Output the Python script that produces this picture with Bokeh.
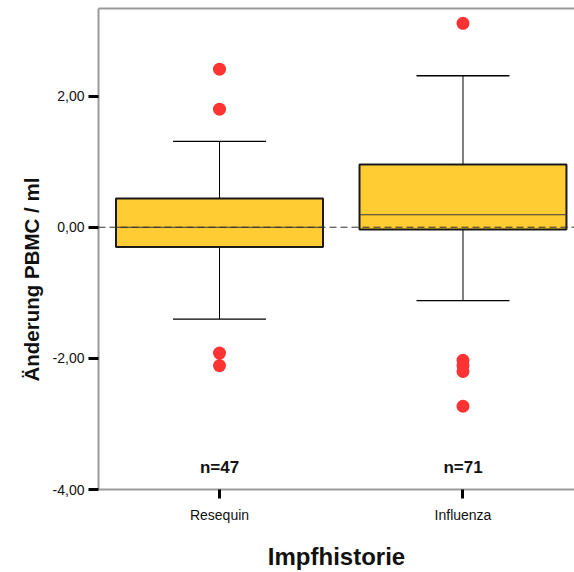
from bokeh.plotting import figure
from bokeh.models import Range1d, FixedTicker, LinearAxis, ColumnDataSource, Span, Title
from bokeh.core.properties import value
from bokeh.embed import file_html
from bokeh.resources import INLINE

# ---- data ----
categories = ["Resequin", "Influenza"]
q1 = [-0.30, -0.035]
medians = [0.00, 0.19]
q3 = [0.44, 0.955]
lower_whisker = [-1.40, -1.12]
upper_whisker = [1.31, 2.31]
outliers_resequin = [2.41, 1.80, -1.92, -2.11]
outliers_influenza = [3.11, -2.03, -2.11, -2.20, -2.73]
n_counts = [47, 71]
y_ticks = [-4, -2, 0, 2]

FONT = "Liberation Sans"
xs = list(range(len(categories)))
BOX_W = 0.85
CAP_W = 0.382

p = figure(width=574, height=572, output_backend="svg", toolbar_location=None,
           x_range=Range1d(-0.497, 1.458), y_range=Range1d(-4.0, 3.336),
           min_border_left=98, min_border_right=0, min_border_top=8,
           min_border_bottom=78)
p.background_fill_color = "white"
p.border_fill_color = "white"
p.outline_line_color = None
p.xgrid.visible = False
p.ygrid.visible = False

src = ColumnDataSource(dict(
    x=xs, q1=q1, med=medians, q3=q3, lo=lower_whisker, hi=upper_whisker,
    bl=[x - BOX_W / 2 for x in xs], br=[x + BOX_W / 2 for x in xs],
    cl=[x - CAP_W / 2 for x in xs], cr=[x + CAP_W / 2 for x in xs]))

# whiskers
p.segment(x0="x", y0="q3", x1="x", y1="hi", source=src, line_color="black", line_width=1)
p.segment(x0="x", y0="q1", x1="x", y1="lo", source=src, line_color="black", line_width=1)
# caps
p.segment(x0="cl", y0="hi", x1="cr", y1="hi", source=src, line_color="black", line_width=1.3)
p.segment(x0="cl", y0="lo", x1="cr", y1="lo", source=src, line_color="black", line_width=1.3)
# boxes
p.vbar(x="x", bottom="q1", top="q3", width=BOX_W, source=src,
       fill_color="#FFCC33", line_color="#1a1a1a", line_width=2)
# medians
p.segment(x0="bl", y0="med", x1="br", y1="med", source=src, line_color="#3a3a3a", line_width=1.2)

# zero reference line on top
p.add_layout(Span(location=0, dimension="width", line_color="#333333",
                  line_width=1, line_dash="7 4", level="overlay"))

# outliers
ox = [0] * len(outliers_resequin) + [1] * len(outliers_influenza)
oy = outliers_resequin + outliers_influenza
p.scatter(x=ox, y=oy, size=13, fill_color="#FF3333", line_color=None)

# n labels
p.text(x=xs, y=[-3.66] * len(xs), text=[f"n={n}" for n in n_counts],
       text_align="center", text_baseline="middle",
       text_font=value(FONT), text_font_style="bold", text_font_size="17px",
       text_color="#111111")

# axes
ya = p.yaxis[0]
ya.ticker = FixedTicker(ticks=y_ticks)
ya.major_label_overrides = {t: f"{t:.2f}".replace(".", ",") for t in y_ticks}
ya.major_label_text_font = FONT
ya.major_label_text_font_size = "14px"
ya.major_label_text_color = "#111111"
ya.major_label_standoff = 4
ya.axis_line_color = "#999999"
ya.axis_line_width = 2
ya.major_tick_line_color = "black"
ya.major_tick_line_width = 3
ya.major_tick_out = 10
ya.major_tick_in = 0
ya.minor_tick_line_color = None

# y-axis title, positioned like the reference (below the frame centre)
p.add_layout(Title(text="Änderung PBMC / ml", align="left", offset=108,
                   standoff=13, text_font=FONT, text_font_style="bold",
                   text_font_size="20.5px", text_color="#111111"), "left")

xa = p.xaxis[0]
xa.ticker = FixedTicker(ticks=xs)
xa.major_label_overrides = {i: c for i, c in enumerate(categories)}
xa.axis_label = "Impfhistorie"
xa.axis_label_text_font = FONT
xa.axis_label_text_font_style = "bold"
xa.axis_label_text_font_size = "24px"
xa.axis_label_text_color = "#111111"
xa.axis_label_standoff = 17
xa.major_label_text_font = FONT
xa.major_label_text_font_size = "14px"
xa.major_label_text_color = "#111111"
xa.major_label_standoff = 8
xa.axis_line_color = "#999999"
xa.axis_line_width = 2
xa.major_tick_line_color = "black"
xa.major_tick_line_width = 3
xa.major_tick_out = 9
xa.major_tick_in = 0
xa.minor_tick_line_color = None

top = LinearAxis(ticker=FixedTicker(ticks=[]), major_label_text_font_size="0px",
                 major_tick_out=0, major_tick_in=0, minor_tick_out=0, minor_tick_in=0,
                 axis_line_color="#999999", axis_line_width=2,
                 major_label_standoff=0)
p.add_layout(top, "above")

open("out.html", "w").write(file_html(p, INLINE))
